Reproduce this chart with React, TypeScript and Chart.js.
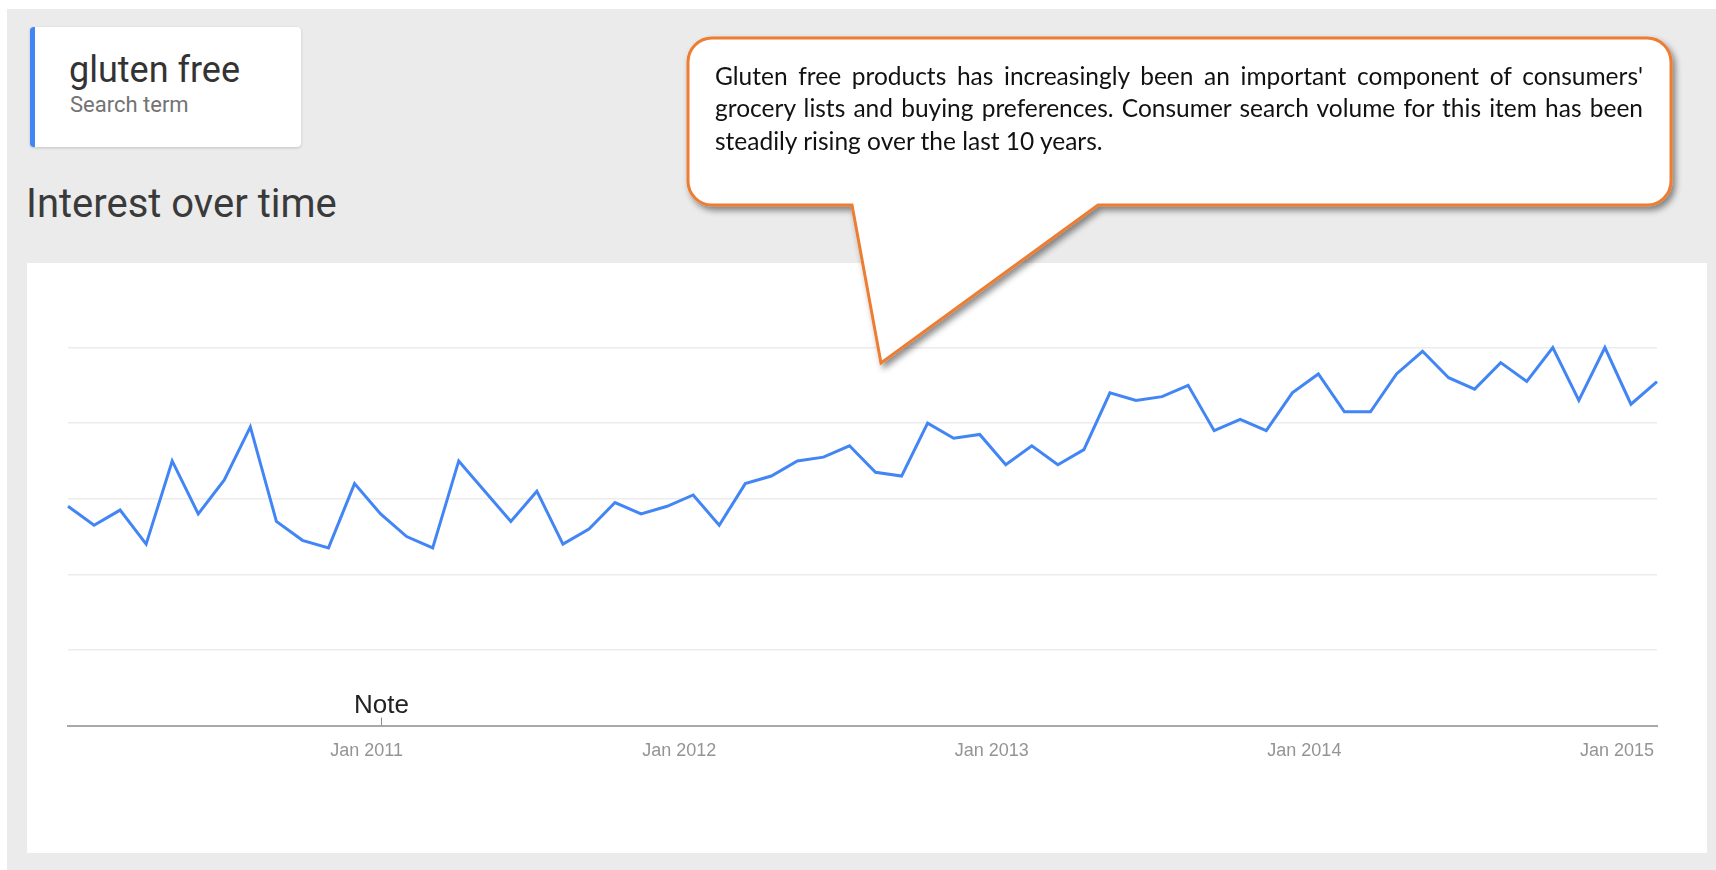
import React, { useEffect, useRef } from "react";
import { Chart, registerables } from "chart.js";

Chart.register(...registerables);

const months = [
  "Jan 2010", "Feb 2010", "Mar 2010", "Apr 2010", "May 2010", "Jun 2010", "Jul 2010", "Aug 2010", "Sep 2010", "Oct 2010", "Nov 2010", "Dec 2010",
  "Jan 2011", "Feb 2011", "Mar 2011", "Apr 2011", "May 2011", "Jun 2011", "Jul 2011", "Aug 2011", "Sep 2011", "Oct 2011", "Nov 2011", "Dec 2011",
  "Jan 2012", "Feb 2012", "Mar 2012", "Apr 2012", "May 2012", "Jun 2012", "Jul 2012", "Aug 2012", "Sep 2012", "Oct 2012", "Nov 2012", "Dec 2012",
  "Jan 2013", "Feb 2013", "Mar 2013", "Apr 2013", "May 2013", "Jun 2013", "Jul 2013", "Aug 2013", "Sep 2013", "Oct 2013", "Nov 2013", "Dec 2013",
  "Jan 2014", "Feb 2014", "Mar 2014", "Apr 2014", "May 2014", "Jun 2014", "Jul 2014", "Aug 2014", "Sep 2014", "Oct 2014", "Nov 2014", "Dec 2014",
  "Jan 2015", "Feb 2015",
];

const interest = [
  58, 53, 57, 48, 70, 56, 65, 79, 54, 49, 47, 64,
  56, 50, 47, 70, 62, 54, 62, 48, 52, 59, 56, 58,
  61, 53, 64, 66, 70, 71, 74, 67, 66, 80, 76, 77,
  69, 74, 69, 73, 88, 86, 87, 90, 78, 81, 78, 88,
  93, 83, 83, 93, 99, 92, 89, 96, 91, 100, 86, 100,
  85, 91,
];

const tickLabels = ["Jan 2011", "Jan 2012", "Jan 2013", "Jan 2014", "Jan 2015"];
const yTicks = [0, 20, 40, 60, 80, 100];
const noteMonth = "Jan 2011";
const noteText = "Note";
const searchTerm = "gluten free";
const searchSub = "Search term";
const sectionTitle = "Interest over time";
const calloutLines = [
  "Gluten free products has increasingly been an important component of consumers'",
  "grocery lists and buying preferences. Consumer search volume for this item has been",
  "steadily rising over the last 10 years.",
];

const notePlugin = {
  id: "notePlugin",
  afterDraw(chart: any) {
    const ctx = chart.ctx;
    const xs = chart.scales.x;
    const idx = months.indexOf(noteMonth);
    if (idx < 0) return;
    const x = Math.round(xs.getPixelForValue(idx)) + 0.5;
    const bottom = chart.chartArea.bottom;
    ctx.save();
    ctx.strokeStyle = "#8a8a8a";
    ctx.lineWidth = 1;
    ctx.beginPath();
    ctx.moveTo(x, bottom - 8);
    ctx.lineTo(x, bottom);
    ctx.stroke();
    ctx.fillStyle = "#222222";
    ctx.font = "26px 'Liberation Sans', Arial, sans-serif";
    ctx.textAlign = "center";
    ctx.textBaseline = "alphabetic";
    ctx.fillText(noteText, x, bottom - 12.5);
    ctx.restore();
  },
};

function TrendChart() {
  const ref = useRef<HTMLCanvasElement | null>(null);
  useEffect(() => {
    if (!ref.current) return;
    const chart = new Chart(ref.current, {
      type: "line",
      data: {
        labels: months,
        datasets: [
          {
            label: searchTerm,
            data: interest,
            borderColor: "#4285f4",
            borderWidth: 3,
            pointRadius: 0,
            pointHoverRadius: 0,
            tension: 0,
            fill: false,
            clip: false as any,
            borderJoinStyle: "miter",
          },
        ],
      },
      options: {
        animation: false,
        responsive: false,
        maintainAspectRatio: false,
        events: [],
        layout: { padding: { left: 41, right: 50, top: 84.5, bottom: 0 } },
        plugins: { legend: { display: false }, tooltip: { enabled: false } },
        scales: {
          x: {
            type: "category",
            offset: false,
            grid: { display: false, drawTicks: false },
            border: { display: true, color: "#a9a9a9", width: 2 },
            ticks: {
              autoSkip: false,
              maxRotation: 0,
              minRotation: 0,
              padding: 15,
              labelOffset: -14,
              color: "#949494",
              font: { family: "'Liberation Sans', Arial, sans-serif", size: 18 },
              callback: function (this: any, value: any) {
                const lbl = this.getLabelForValue(value);
                return tickLabels.includes(lbl) ? lbl : "";
              },
            },
            afterFit: (scale: any) => {
              scale.height = 127.4;
            },
          } as any,
          y: {
            min: yTicks[0],
            max: yTicks[yTicks.length - 1],
            ticks: { display: false, stepSize: yTicks[1] - yTicks[0] },
            border: { display: false },
            grid: {
              drawTicks: false,
              lineWidth: 1.5,
              color: (c: any) => (c.tick && c.tick.value === yTicks[0] ? "rgba(0,0,0,0)" : "#ececec"),
            },
            afterFit: (scale: any) => {
              scale.width = 0;
            },
          } as any,
        },
      },
      plugins: [notePlugin],
    });
    return () => chart.destroy();
  }, []);
  return <canvas ref={ref} width={1680} height={590} style={{ display: "block" }} />;
}

export default function App() {
  const r = 24;
  const L = 688, T = 38, R = 1671, B = 205;
  const pL = 852, pR = 1098, tipX = 881, tipY = 363;
  const path = `M ${L + r} ${T} H ${R - r} A ${r} ${r} 0 0 1 ${R} ${T + r} V ${B - r} A ${r} ${r} 0 0 1 ${R - r} ${B} H ${pR} L ${tipX} ${tipY} L ${pL} ${B} H ${L + r} A ${r} ${r} 0 0 1 ${L} ${B - r} V ${T + r} A ${r} ${r} 0 0 1 ${L + r} ${T} Z`;
  return (
    <div>
      <div style={{ position: "absolute", left: 7, top: 9, width: 1709, height: 861, background: "#ebebeb" }} />
      {/* search term card */}
      <div
        style={{
          position: "absolute",
          left: 30,
          top: 27,
          width: 271,
          height: 120,
          background: "#ffffff",
          borderRadius: 4,
          borderLeft: "5px solid #4285f4",
          boxSizing: "border-box",
          boxShadow: "0 1px 3px rgba(0,0,0,0.18)",
        }}
      />
      <div
        style={{
          position: "absolute",
          left: 69,
          top: 51.8,
          fontFamily: "Roboto, sans-serif",
          fontSize: 36,
          lineHeight: "36px",
          color: "#333333",
          whiteSpace: "nowrap",
        }}
      >
        {searchTerm}
      </div>
      <div
        style={{
          position: "absolute",
          left: 70,
          top: 93.6,
          fontFamily: "Roboto, sans-serif",
          fontSize: 22,
          lineHeight: "22px",
          color: "#737373",
          whiteSpace: "nowrap",
        }}
      >
        {searchSub}
      </div>
      <div
        style={{
          position: "absolute",
          left: 26,
          top: 183.5,
          fontFamily: "Roboto, sans-serif",
          fontSize: 40,
          lineHeight: "40px",
          color: "#3a3a3a",
          whiteSpace: "nowrap",
        }}
      >
        {sectionTitle}
      </div>
      {/* chart panel */}
      <div style={{ position: "absolute", left: 27, top: 263, width: 1680, height: 590, background: "#ffffff" }}>
        <TrendChart />
      </div>
      {/* callout */}
      <svg
        width={1716}
        height={870}
        style={{ position: "absolute", left: 0, top: 0, pointerEvents: "none", overflow: "visible" }}
      >
        <defs>
          <filter id="shadow" x="-10%" y="-10%" width="130%" height="140%">
            <feDropShadow dx="3" dy="4" stdDeviation="3" floodColor="#000000" floodOpacity="0.45" />
          </filter>
        </defs>
        <path d={path} fill="#ffffff" stroke="#ed7d31" strokeWidth={3} strokeLinejoin="miter" filter="url(#shadow)" />
      </svg>
      {calloutLines.map((line, i) => (
        <div
          key={i}
          style={{
            position: "absolute",
            left: 715,
            top: 59.5 + i * 32.5,
            width: 928,
            height: 32.5,
            lineHeight: "32.5px",
            fontFamily: "Lato, 'Open Sans', sans-serif",
            fontSize: 24.5,
            color: "#111111",
            textAlign: i < calloutLines.length - 1 ? "justify" : "left",
            textAlignLast: i < calloutLines.length - 1 ? "justify" : "left",
            whiteSpace: "nowrap",
          } as any}
        >
          {line}
        </div>
      ))}
    </div>
  );
}
